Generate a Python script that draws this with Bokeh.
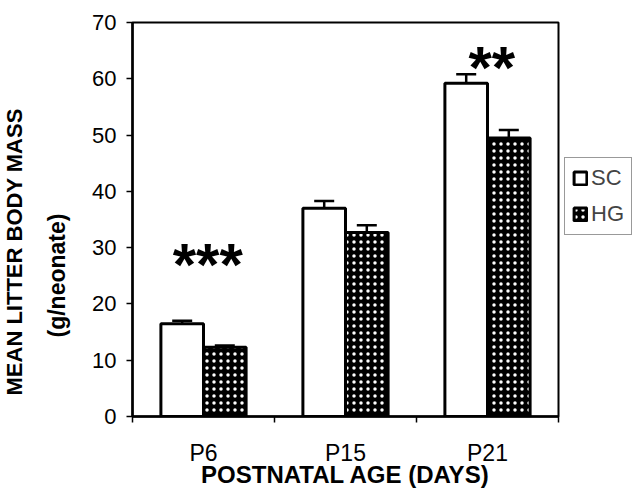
from bokeh.plotting import figure
from bokeh.models import (ColumnDataSource, Whisker, FixedTicker, Legend, LegendItem,
                          Title, Range1d)
from bokeh.core.properties import value
from bokeh.embed import file_html
from bokeh.resources import INLINE

# ---- data ----
categories = ["P6", "P15", "P21"]
sc_mean = [16.5, 37.0, 59.2]
sc_err = [0.5, 1.3, 1.6]
hg_mean = [12.3, 32.7, 49.5]
hg_err = [0.3, 1.3, 1.4]
stars = ["***", "", "**"]
star_y = [27.0, 0, 62.0]

FONT = "Liberation Sans"
n = len(categories)
centers = [i + 0.5 for i in range(n)]
bw = 0.3

sc_src = ColumnDataSource(dict(
    x=[c - bw / 2 for c in centers], top=sc_mean,
    upper=[m + e for m, e in zip(sc_mean, sc_err)],
    lower=[m - e for m, e in zip(sc_mean, sc_err)]))
hg_src = ColumnDataSource(dict(
    x=[c + bw / 2 for c in centers], top=hg_mean,
    upper=[m + e for m, e in zip(hg_mean, hg_err)],
    lower=[m - e for m, e in zip(hg_mean, hg_err)]))
star_src = ColumnDataSource(dict(x=[c + 0.03 for c in centers], y=star_y, text=stars))

p = figure(frame_width=426, frame_height=394, output_backend="svg",
           toolbar_location=None,
           x_range=Range1d(0, n), y_range=Range1d(0, 70),
           min_border_left=132, min_border_right=75, min_border_top=22,
           min_border_bottom=75)
p.grid.visible = False
p.outline_line_color = "black"
p.outline_line_width = 2
p.background_fill_color = "white"
p.border_fill_color = "white"

sc_r = p.vbar(x="x", top="top", width=bw, bottom=0, source=sc_src,
              fill_color="white", line_color="black", line_width=3)
hg_r = p.vbar(x="x", top="top", width=bw, bottom=0, source=hg_src,
              fill_color="black", line_color="black", line_width=3,
              hatch_pattern="dot", hatch_color="white", hatch_scale=7,
              hatch_weight=1.5)

for src in (sc_src, hg_src):
    w = Whisker(base="x", upper="upper", lower="lower", source=src,
                line_color="black", line_width=2.5)
    w.upper_head.size = 20
    w.lower_head.size = 20
    w.upper_head.line_width = 2.5
    w.lower_head.line_width = 2.5
    p.add_layout(w)

p.text(x="x", y="y", text="text", source=star_src, text_align="center",
       text_baseline="middle", text_font=value(FONT), text_font_style="bold",
       text_font_size="60px", text_color="black")

# x axis: labels at centres, ticks at boundaries
p.xaxis.ticker = FixedTicker(ticks=centers, minor_ticks=list(range(n + 1)))
p.xaxis.major_label_overrides = {c: lab for c, lab in zip(centers, categories)}
p.xaxis.major_tick_line_color = None
p.xaxis.major_tick_out = 6
p.xaxis.minor_tick_out = 6
p.xaxis.minor_tick_in = 0
p.xaxis.minor_tick_line_width = 1.5
p.xaxis.major_label_standoff = 17
p.xaxis.major_label_text_font = FONT
p.xaxis.major_label_text_font_size = "23px"
p.xaxis.major_label_text_color = "black"
p.xaxis.axis_label = "POSTNATAL AGE (DAYS)"
p.xaxis.axis_label_text_font = FONT
p.xaxis.axis_label_text_font_style = "bold"
p.xaxis.axis_label_text_font_size = "24px"
p.xaxis.axis_label_text_color = "black"
p.xaxis.axis_label_standoff = -8
p.xaxis.axis_line_width = 2.5

p.yaxis.ticker = FixedTicker(ticks=list(range(0, 71, 10)))
p.yaxis.major_tick_out = 6
p.yaxis.major_tick_in = 0
p.yaxis.major_tick_line_width = 1.5
p.yaxis.minor_tick_line_color = None
p.yaxis.major_label_text_font = FONT
p.yaxis.major_label_text_font_size = "22px"
p.yaxis.major_label_text_color = "black"
p.yaxis.major_label_standoff = 10
p.yaxis.axis_line_width = 2.5

t1 = Title(text="(g/neonate)", align="left", offset=79, text_font=FONT,
           text_font_style="bold", text_font_size="23px", text_color="black",
           standoff=40)
p.add_layout(t1, "left")
t2 = Title(text="MEAN LITTER BODY MASS", align="left", offset=21, text_font=FONT,
           text_font_style="bold", text_font_size="22px", text_color="black",
           standoff=-10)
p.add_layout(t2, "left")

legend = Legend(items=[LegendItem(label="SC", renderers=[sc_r]),
                       LegendItem(label="HG", renderers=[hg_r])],
                location=(6, 181), border_line_color="#333333",
                border_line_width=1.2, label_text_font=FONT,
                label_text_font_size="22px", glyph_width=16, glyph_height=16,
                padding=7, spacing=10, margin=0, label_standoff=3,
                label_height=16)
p.add_layout(legend, "right")

open("out.html", "w").write(file_html(p, INLINE))
